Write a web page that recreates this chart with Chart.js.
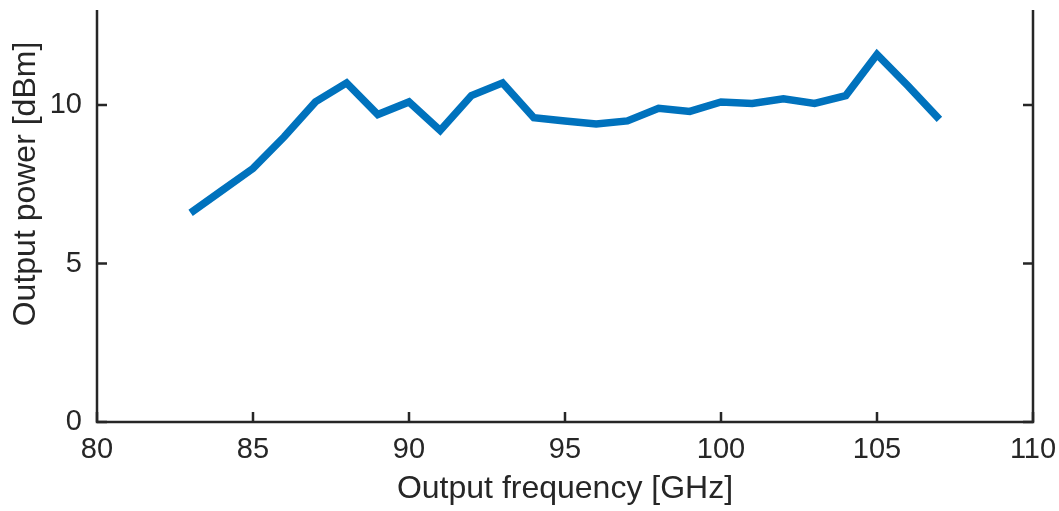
<!DOCTYPE html>
<html lang="en">
<head>
    <meta charset="UTF-8">
    <title>Output power</title>
    <style>
        * {
            margin: 0;
            padding: 0;
            box-sizing: border-box;
        }

        body {
            background: #fff;
        }

        .wrapper {
            position: relative;
            width: 1059px;
            height: 511px;
        }
    </style>
</head>
<body>
    <div class="wrapper">
        <canvas id="chart"></canvas>
    </div>

    <script src="https://cdn.jsdelivr.net/npm/chart.js@4.4.1/dist/chart.umd.min.js"></script>
    <script>
        // Output frequency (GHz) and measured output power (dBm)
        const frequency = [83, 84, 85, 86, 87, 88, 89, 90, 91, 92, 93, 94, 95, 96, 97, 98, 99, 100, 101, 102, 103, 104, 105, 106, 107];
        const power = [6.6, 7.3, 8.0, 9.0, 10.1, 10.7, 9.7, 10.1, 9.2, 10.3, 10.7, 9.6, 9.5, 9.4, 9.5, 9.9, 9.8, 10.1, 10.05, 10.2, 10.05, 10.3, 11.6, 10.6, 9.55];

        const xTicks = [80, 85, 90, 95, 100, 105, 110];
        const yTicks = [0, 5, 10];

        const axisColor = "#262626";
        const fontFamily = "'Liberation Sans', Arial, sans-serif";
        Chart.defaults.font.family = fontFamily;
        Chart.defaults.color = axisColor;

        // Axis lines with inward tick marks (left, bottom, right; no top line)
        const boxAxes = {
            id: "boxAxes",
            afterDraw(chart) {
                const { ctx, chartArea: a, scales } = chart;
                ctx.save();
                ctx.strokeStyle = axisColor;
                ctx.lineWidth = 2.5;
                ctx.lineJoin = "miter";
                ctx.beginPath();
                ctx.moveTo(a.left, a.top);
                ctx.lineTo(a.left, a.bottom);
                ctx.lineTo(a.right, a.bottom);
                ctx.lineTo(a.right, a.top);
                ctx.stroke();

                ctx.beginPath();
                xTicks.forEach(v => {
                    const px = scales.x.getPixelForValue(v);
                    ctx.moveTo(px, a.bottom);
                    ctx.lineTo(px, a.bottom - 10);
                });
                yTicks.forEach(v => {
                    const py = scales.y.getPixelForValue(v);
                    ctx.moveTo(a.left, py);
                    ctx.lineTo(a.left + 10, py);
                    ctx.moveTo(a.right, py);
                    ctx.lineTo(a.right - 10, py);
                });
                ctx.stroke();

                // y-axis label, sits a bit above the middle like the original
                ctx.translate(26, 184);
                ctx.rotate(-Math.PI / 2);
                ctx.font = "32px " + fontFamily;
                ctx.fillStyle = axisColor;
                ctx.textAlign = "center";
                ctx.textBaseline = "middle";
                ctx.fillText("Output power [dBm]", 0, 0);
                ctx.restore();
            }
        };

        new Chart(document.getElementById("chart"), {
            type: "line",
            plugins: [boxAxes],
            data: {
                datasets: [{
                    data: frequency.map((f, i) => ({ x: f, y: power[i] })),
                    borderColor: "#0072BD",
                    borderWidth: 7.5,
                    borderJoinStyle: "miter",
                    borderCapStyle: "butt",
                    pointRadius: 0,
                    tension: 0,
                    fill: false
                }]
            },
            options: {
                responsive: true,
                maintainAspectRatio: false,
                animation: false,
                layout: { padding: { top: 10, right: 26, bottom: 0, left: 0 } },
                plugins: {
                    legend: { display: false },
                    tooltip: { enabled: false }
                },
                scales: {
                    x: {
                        type: "linear",
                        min: 80,
                        max: 110,
                        afterBuildTicks: s => { s.ticks = xTicks.map(v => ({ value: v })); },
                        afterFit: s => {
                            s.height = 89;
                            s.paddingLeft = 0;
                            s.paddingRight = 0;
                        },
                        grid: { display: false, drawTicks: false },
                        border: { display: false },
                        ticks: { font: { size: 29 }, padding: 11, maxRotation: 0, autoSkip: false },
                        title: {
                            display: true,
                            text: "Output frequency [GHz]",
                            font: { size: 32 },
                            padding: { top: 0, bottom: 3 }
                        }
                    },
                    y: {
                        type: "linear",
                        min: 0,
                        max: 13,
                        afterBuildTicks: s => { s.ticks = yTicks.map(v => ({ value: v })); },
                        afterFit: s => {
                            s.width = 97;
                            s.paddingTop = 0;
                            s.paddingBottom = 0;
                        },
                        grid: { display: false, drawTicks: false },
                        border: { display: false },
                        ticks: { font: { size: 29 }, padding: 15 }
                    }
                }
            }
        });
    </script>
</body>
</html>
